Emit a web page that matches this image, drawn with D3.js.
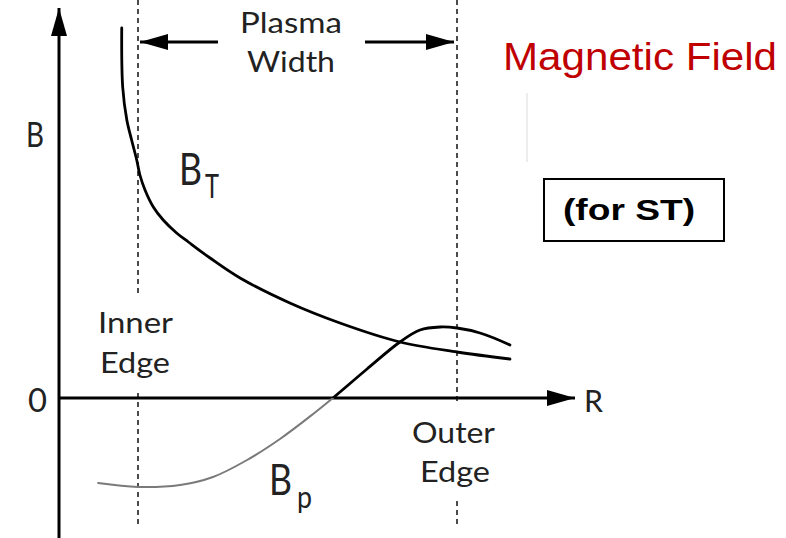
<!DOCTYPE html>
<html>
<head>
<meta charset="utf-8">
<script src="https://cdn.jsdelivr.net/npm/d3@7"></script>
<style>
  html, body { margin: 0; padding: 0; background: #fff; }
  svg { display: block; }
</style>
</head>
<body>
<svg id="chart" width="786" height="538"></svg>
<script>
// ---- data (normalized radius: 0 = inner edge, 1 = outer edge; B in arbitrary units) ----
const edgeR = [0, 1];
const edgeLabels = [["Inner", "Edge"], ["Outer", "Edge"]];
const btR = [-0.051, -0.048, -0.035, -0.020, -0.004, 0.006, 0.022, 0.048, 0.079, 0.121, 0.158, 0.226, 0.320, 0.476, 0.633, 0.821, 1.0, 1.166];
const btB = [3.70, 3.11, 2.78, 2.58, 2.38, 2.23, 2.08, 1.91, 1.78, 1.65, 1.56, 1.40, 1.20, 0.95, 0.75, 0.56, 0.46, 0.39];
const bpR = [-0.125, 0, 0.132, 0.235, 0.342, 0.445, 0.549, 0.611, 0.718, 0.821, 0.884, 0.947, 1.0, 1.072, 1.166];
const bpB = [-0.85, -0.89, -0.87, -0.79, -0.62, -0.41, -0.16, 0, 0.29, 0.56, 0.68, 0.71, 0.70, 0.65, 0.53];
const titleText = "Magnetic Field";
const noteText = "(for ST)";
const widthLabel = ["Plasma", "Width"];

const svg = d3.select("#chart");
const W = 786, H = 538;
const x = d3.scaleLinear().domain([0, 1]).range([138, 457]);
const y = d3.scaleLinear().domain([0, 1]).range([398, 298]);

const txtFont = "Lato, 'Open Sans', sans-serif";
const txtColor = "#222";

// arrow marker
const defs = svg.append("defs");
defs.append("marker").attr("id", "ah").attr("viewBox", "0 0 28 16")
  .attr("refX", 28).attr("refY", 8).attr("markerWidth", 28).attr("markerHeight", 16)
  .attr("markerUnits", "userSpaceOnUse").attr("orient", "auto")
  .append("path").attr("d", "M0,0 L28,8 L0,16 Z").attr("fill", "#000");

// clip paths for Bp (below / above zero)
defs.append("clipPath").attr("id", "below").append("rect")
  .attr("x", 0).attr("y", y(0)).attr("width", W).attr("height", H - y(0));
defs.append("clipPath").attr("id", "above").append("rect")
  .attr("x", 0).attr("y", 0).attr("width", W).attr("height", y(0));

// dashed edge lines (with gaps for labels)
const dashSegs = [
  [[0, 293], [393, 524]],
  [[0, 403], [501, 525]]
];
edgeR.forEach((r, i) => {
  dashSegs[i].forEach(s => {
    svg.append("line").attr("x1", x(r)).attr("x2", x(r)).attr("y1", s[0]).attr("y2", s[1])
      .attr("stroke", "#111").attr("stroke-width", 1.5).attr("stroke-dasharray", "5,4");
  });
});

// faint artifact line
svg.append("line").attr("x1", 527).attr("x2", 527).attr("y1", 93).attr("y2", 162)
  .attr("stroke", "#ededed").attr("stroke-width", 2);

// axes
const x0 = 59;
svg.append("line").attr("x1", x0).attr("x2", x0).attr("y1", H).attr("y2", 8)
  .attr("stroke", "#000").attr("stroke-width", 3).attr("marker-end", "url(#ah)");
svg.append("line").attr("x1", x0).attr("x2", 575).attr("y1", y(0)).attr("y2", y(0))
  .attr("stroke", "#000").attr("stroke-width", 3).attr("marker-end", "url(#ah)");

// plasma width arrows
svg.append("line").attr("x1", 218).attr("x2", x(0) + 2).attr("y1", 42).attr("y2", 42)
  .attr("stroke", "#000").attr("stroke-width", 3).attr("marker-end", "url(#ah)");
svg.append("line").attr("x1", 365).attr("x2", x(1) - 3).attr("y1", 42).attr("y2", 42)
  .attr("stroke", "#000").attr("stroke-width", 3).attr("marker-end", "url(#ah)");

// curves
const line = d3.line().x(d => x(d[0])).y(d => y(d[1])).curve(d3.curveCatmullRom.alpha(0.5));
const btData = btR.map((r, i) => [r, btB[i]]);
const bpData = bpR.map((r, i) => [r, bpB[i]]);

svg.append("path").attr("d", line(btData)).attr("fill", "none")
  .attr("stroke", "#000").attr("stroke-width", 2.8).attr("stroke-linecap", "round");
svg.append("path").attr("d", line(bpData)).attr("fill", "none").attr("clip-path", "url(#below)")
  .attr("stroke", "#7a7a7a").attr("stroke-width", 2).attr("stroke-linecap", "round");
svg.append("path").attr("d", line(bpData)).attr("fill", "none").attr("clip-path", "url(#above)")
  .attr("stroke", "#000").attr("stroke-width", 2.8).attr("stroke-linecap", "round");

// helper for stretched text
function txt(str, xl, base, size, len, opts = {}) {
  const t = svg.append("text").attr("x", xl).attr("y", base)
    .attr("font-family", opts.family || txtFont).attr("font-size", size)
    .attr("fill", opts.fill || txtColor).attr("font-weight", opts.weight || "normal")
    .text(str);
  if (len) t.attr("textLength", len).attr("lengthAdjust", "spacingAndGlyphs");
  return t;
}

// axis labels
txt("B", 26, 147, 34, 18);
txt("0", 28, 412, 33, 19);
txt("R", 584, 412, 31, 19);

// plasma width label
txt(widthLabel[0], 240, 33, 29, 102);
txt(widthLabel[1], 247, 72, 29, 88);

// edge labels
txt(edgeLabels[0][0], 98, 333, 29, 75);
txt(edgeLabels[0][1], 100, 373, 29, 70);
txt(edgeLabels[1][0], 412, 443, 29, 83);
txt(edgeLabels[1][1], 420, 482, 29, 70);

// curve labels
txt("B", 179, 185, 45, 23);
txt("T", 205, 198, 32, 14);
txt("B", 269, 495, 43, 23);
txt("p", 297, 508, 30, 15);

// title
txt(titleText, 503, 70, 38, 274, { family: "'Liberation Sans', Arial, sans-serif", fill: "#c00000" });

// note box
svg.append("rect").attr("x", 544).attr("y", 179).attr("width", 180).attr("height", 62)
  .attr("fill", "none").attr("stroke", "#000").attr("stroke-width", 2);
txt(noteText, 563, 220, 30, 132, { family: "'Liberation Sans', Arial, sans-serif", fill: "#000", weight: "bold" });
</script>
</body>
</html>
